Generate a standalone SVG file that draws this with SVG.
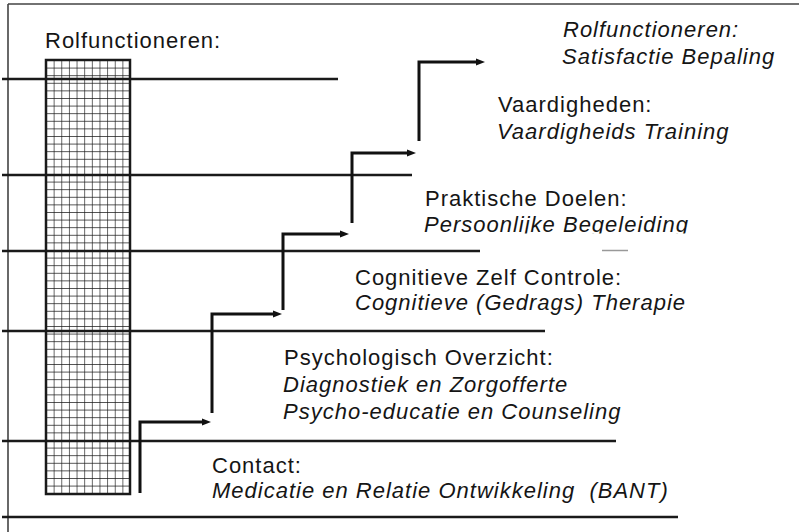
<svg xmlns="http://www.w3.org/2000/svg" width="799" height="532" viewBox="0 0 799 532">
<style>
.t{font-family:"Liberation Sans",Arial,sans-serif;font-size:22px;letter-spacing:1px;fill:#151515}
.i{font-style:italic}
.hl{stroke:#1a1a1a;stroke-width:2.6;fill:none}
.ar{stroke:#111;stroke-width:3;fill:none;stroke-linejoin:miter}
</style>
<defs>
<pattern id="grid" patternUnits="userSpaceOnUse" x="46" y="60" width="7.64" height="7.6">
<path d="M0,0 H7.64 M0,0 V7.6" stroke="#161616" stroke-width="1.3" fill="none"/>
</pattern>
<marker id="ah" markerWidth="9" markerHeight="8" refX="1" refY="4" orient="auto" markerUnits="userSpaceOnUse">
<path d="M0,0.5 L9,4 L0,7.5 Z" fill="#111"/>
</marker>
<clipPath id="clipP"><rect x="400" y="190" width="320" height="43.5"/></clipPath>
</defs>
<g id="frame">
<path d="M8,4 H799 M8,4 V532" stroke="#444" stroke-width="1.6" fill="none"/>
</g>
<g id="column">
<rect x="46" y="60" width="84" height="434" fill="url(#grid)" stroke="#1a1a1a" stroke-width="2.5"/>
</g>
<g id="levels">
<line class="hl" x1="2" y1="79" x2="338" y2="79"/>
<line class="hl" x1="2" y1="175" x2="412" y2="175"/>
<line class="hl" x1="2" y1="251" x2="480" y2="251"/>
<line x1="602" y1="250.5" x2="628" y2="250.5" stroke="#999" stroke-width="1.5"/>
<line class="hl" x1="2" y1="331" x2="545" y2="331"/>
<line class="hl" x1="2" y1="441" x2="616" y2="441"/>
<line class="hl" x1="2" y1="517" x2="678" y2="517"/>
</g>
<g id="connectors">
<path class="ar" d="M140,493 V422 H203" marker-end="url(#ah)"/>
<path class="ar" d="M212,413 V314 H274" marker-end="url(#ah)"/>
<path class="ar" d="M283,310 V234 H341" marker-end="url(#ah)"/>
<path class="ar" d="M352,223 V153 H408" marker-end="url(#ah)"/>
<path class="ar" d="M419,141 V62 H477" marker-end="url(#ah)"/>
</g>
<g id="label-rolfunctioneren">
<text class="t" x="45" y="48">Rolfunctioneren:</text>
</g>
<g id="node-rolfunctioneren">
<text class="t i" x="563" y="37">Rolfunctioneren:</text>
<text class="t i" x="562" y="64">Satisfactie Bepaling</text>
</g>
<g id="node-vaardigheden">
<text class="t" x="498" y="112">Vaardigheden:</text>
<text class="t i" x="497" y="139">Vaardigheids Training</text>
</g>
<g id="node-praktische">
<text class="t" x="425" y="206">Praktische Doelen:</text>
<text class="t i" x="424" y="232" clip-path="url(#clipP)">Persoonlijke Begeleiding</text>
</g>
<g id="node-cognitief">
<text class="t" x="355" y="285">Cognitieve Zelf Controle:</text>
<text class="t i" x="355" y="310">Cognitieve (Gedrags) Therapie</text>
</g>
<g id="node-psychologisch">
<text class="t" x="284" y="365">Psychologisch Overzicht:</text>
<text class="t i" x="283" y="392">Diagnostiek en Zorgofferte</text>
<text class="t i" x="283" y="419">Psycho-educatie en Counseling</text>
</g>
<g id="node-contact">
<text class="t" x="212" y="473">Contact:</text>
<text class="t i" x="212" y="498" xml:space="preserve">Medicatie en Relatie Ontwikkeling  (BANT)</text>
</g>
</svg>
